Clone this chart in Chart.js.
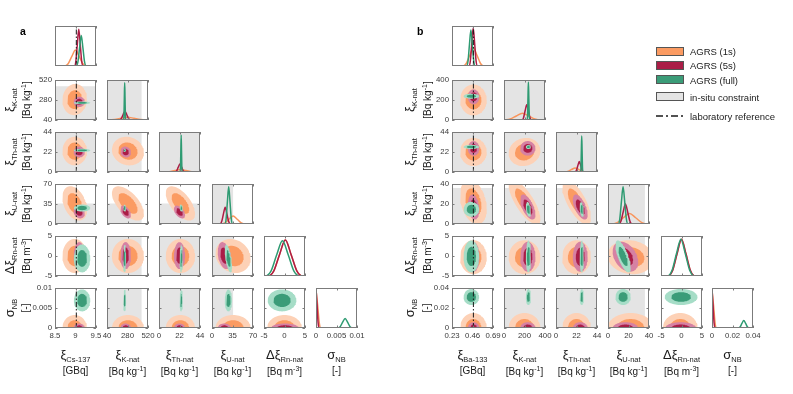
<!DOCTYPE html>
<html>
<head>
<meta charset="utf-8">
<script src="https://cdn.jsdelivr.net/npm/chart.js@4.4.1/dist/chart.umd.min.js"></script>
<style>
  body { margin: 0; background: #fff; font-family: "Liberation Sans", Arial, sans-serif; }
  #wrap { position: relative; width: 793px; height: 394px; overflow: hidden; }
  #wrap canvas { position: absolute; }
  .t { position: absolute; white-space: nowrap; color: #1a1a1a; line-height: 1; }
  .ttl { font-size: 10px; transform: translate(-50%, -50%); }
  .rot { transform: translate(-50%, -50%) rotate(-90deg); }
  .g { font-size: 13px; }
  .t sub { font-size: 7.5px; vertical-align: -3px; }
  .t sup { font-size: 7px; vertical-align: 4px; }
  .sw { position: absolute; width: 26px; height: 7px; border: 1px solid #555; }
  .lg { position: absolute; font-size: 9.5px; color: #1a1a1a; transform: translateY(-50%); white-space: nowrap; }
  .pl { position: absolute; font-size: 10.5px; font-weight: bold; }
</style>
</head>
<body>
<div id="wrap"></div>
<script>
// ---- data: plot a (Cs-137 source) ----
const ticksA = [[8.5, 9, 9.5], [40, 280, 520], [0, 22, 44], [0, 35, 70], [-5, 0, 5], [0, 0.005, 0.01]];
const tickLabelsA = [['8.5', '9', '9.5'], ['40', '280', '520'], ['0', '22', '44'], ['0', '35', '70'], ['-5', '0', '5'], ['0', '0.005', '0.01']];
const constraintA = [null, [40, 445], [0, 44], [0, 36], null, null];
const labRefA = 9.02;

// blob centres / spreads per variable: Cs, K, Th, U, Rn, NB
const meanA_1s = [8.98, 285, 23, 36, 0, 0];
const sdA_1s = [0.12, 75, 6.3, 12, 1.7, 0.0013];
const meanA_5s = [9.09, 258, 22, 21, 0.1, 0];
const sdA_5s = [0.055, 25, 2.4, 4.5, 1.35, 0.00045];
const meanA_full = [9.16, 246, 23.8, 28, -0.6, 0.0069];
const sdA_full = [0.08, 7, 0.7, 2.5, 1.4, 0.0011];
// pair correlations: K-Cs, Th-Cs, Th-K, U-Cs, U-K, U-Th, Rn-Cs, Rn-K, Rn-Th, Rn-U, NB-Cs, NB-K, NB-Th, NB-U, NB-Rn
const corrA_1s = [0.05, 0, -0.1, -0.35, -0.6, -0.6, 0, 0, 0, -0.15, 0, 0, 0, 0, 0];
const corrA_5s = [0, 0, -0.1, -0.2, -0.5, -0.5, 0, 0, 0, -0.3, 0, 0, 0, 0, 0];
const corrA_full = [0, 0, 0, 0, -0.3, -0.3, 0, 0, 0, -0.6, 0, 0, 0, 0, 0];

// marginal curves [1s, 5s, full], y normalised to panel height
const margA_Cs = [
  [[8.5, 0], [8.73, 0], [8.82, 0.056], [8.91, 0.24], [9.0, 0.4], [9.09, 0.24], [9.18, 0.056], [9.27, 0], [9.5, 0]],
  [[8.5, 0], [8.975, 0], [9.01, 0.13], [9.045, 0.55], [9.08, 0.92], [9.115, 0.55], [9.15, 0.13], [9.185, 0], [9.5, 0]],
  [[8.5, 0], [9.02, 0], [9.06, 0.11], [9.1, 0.46], [9.14, 0.76], [9.18, 0.46], [9.22, 0.11], [9.26, 0], [9.5, 0]]
];
const margA_K = [
  [[40, 0], [55, 0], [130, 0.01], [205, 0.042], [280, 0.07], [355, 0.042], [430, 0.01], [505, 0], [520, 0]],
  [[40, 0], [184, 0], [206, 0.03], [228, 0.13], [250, 0.22], [272, 0.13], [294, 0.03], [316, 0], [520, 0]],
  [[40, 0], [235, 0], [239, 0.13], [243, 0.56], [247, 0.93], [251, 0.56], [255, 0.13], [259, 0], [520, 0]]
];
const margA_Th = [
  [[0, 0], [5, 0], [11, 0.008], [17, 0.036], [23, 0.06], [29, 0.036], [35, 0.008], [41, 0], [44, 0]],
  [[0, 0], [17.1, 0], [18.9, 0.028], [20.7, 0.12], [22.5, 0.2], [24.3, 0.12], [26.1, 0.028], [27.9, 0], [44, 0]],
  [[0, 0], [22.75, 0], [23.1, 0.13], [23.45, 0.55], [23.8, 0.92], [24.15, 0.55], [24.5, 0.13], [24.85, 0], [44, 0]]
];
const margA_U = [
  [[0, 0], [15, 0], [22, 0.028], [29, 0.12], [36, 0.2], [43, 0.12], [50, 0.028], [57, 0], [70, 0]],
  [[0, 0], [13.5, 0], [16.5, 0.06], [19.5, 0.25], [22.5, 0.42], [25.5, 0.25], [28.5, 0.06], [31.5, 0], [70, 0]],
  [[0, 0], [21.9, 0], [24.1, 0.13], [26.3, 0.56], [28.5, 0.93], [30.7, 0.56], [32.9, 0.13], [35.1, 0], [70, 0]]
];
const margA_Rn = [
  [[-5, 0], [-4.0, 0], [-2.6, 0.13], [-1.2, 0.54], [0.2, 0.9], [1.6, 0.54], [3.0, 0.13], [4.4, 0], [5, 0]],
  [[-5, 0], [-4.0, 0], [-2.6, 0.13], [-1.2, 0.54], [0.2, 0.9], [1.6, 0.54], [3.0, 0.13], [4.4, 0], [5, 0]],
  [[-5, 0], [-4.7, 0], [-3.3, 0.12], [-1.9, 0.53], [-0.5, 0.88], [0.9, 0.53], [2.3, 0.12], [3.7, 0], [5, 0]]
];
const margA_NB = [
  [[0, 0.95], [0.0004, 0.57], [0.0008, 0.13], [0.0012, 0], [0.01, 0]],
  [[0, 1], [0.00025, 0.6], [0.0005, 0.14], [0.00075, 0], [0.01, 0]],
  [[0, 0], [0.0053, 0], [0.0059, 0.034], [0.0065, 0.144], [0.0071, 0.24], [0.0077, 0.144], [0.0083, 0.034], [0.0089, 0], [0.01, 0]]
];

// ---- data: plot b (Ba-133 source) ----
const ticksB = [[0.23, 0.46, 0.69], [0, 200, 400], [0, 22, 44], [0, 20, 40], [-5, 0, 5], [0, 0.02, 0.04]];
const tickLabelsB = [['0.23', '0.46', '0.69'], ['0', '200', '400'], ['0', '22', '44'], ['0', '20', '40'], ['-5', '0', '5'], ['0', '0.02', '0.04']];
const constraintB = [null, [0, 400], [0, 44], [0, 36], null, null];
const labRefB = 0.47;

const meanB_1s = [0.47, 200, 22, 22, -0.3, 0];
const sdB_1s = [0.06, 62, 6.2, 9, 1.7, 0.006];
const meanB_5s = [0.472, 232, 26, 17, -0.2, 0];
const sdB_5s = [0.026, 30, 3.2, 5, 1.5, 0.0023];
const meanB_full = [0.447, 238, 27.6, 14.7, -0.1, 0.031];
const sdB_full = [0.035, 10, 0.9, 3, 1.6, 0.0032];
const corrB_1s = [0, 0, 0.1, -0.3, -0.75, -0.7, 0, 0, 0, -0.1, 0, 0, 0, 0, 0];
const corrB_5s = [0, 0, 0, -0.2, -0.6, -0.6, 0, 0, 0, -0.35, 0, 0, 0, 0, 0];
const corrB_full = [0, 0, 0, 0, -0.4, -0.4, 0, 0, 0, -0.7, 0, 0, 0, 0, 0];

const margB_Ba = [
  [[0.23, 0], [0.35, 0], [0.39, 0.063], [0.43, 0.27], [0.47, 0.45], [0.51, 0.27], [0.55, 0.063], [0.59, 0], [0.69, 0]],
  [[0.23, 0], [0.42, 0], [0.436, 0.13], [0.452, 0.57], [0.468, 0.95], [0.484, 0.57], [0.5, 0.13], [0.516, 0], [0.69, 0]],
  [[0.23, 0], [0.394, 0], [0.41, 0.126], [0.426, 0.54], [0.442, 0.9], [0.458, 0.54], [0.474, 0.126], [0.49, 0], [0.69, 0]]
];
const margB_K = [
  [[0, 0], [60, 0.024], [120, 0.1], [180, 0.17], [240, 0.1], [300, 0.024], [360, 0], [400, 0]],
  [[0, 0], [174, 0], [190, 0.053], [206, 0.23], [222, 0.38], [238, 0.23], [254, 0.053], [270, 0], [400, 0]],
  [[0, 0], [226, 0], [230, 0.13], [234, 0.57], [238, 0.95], [242, 0.57], [246, 0.13], [250, 0], [400, 0]]
];
const margB_Th = [
  [[0, 0], [8.5, 0], [12.5, 0.014], [16.5, 0.06], [20.5, 0.1], [24.5, 0.06], [28.5, 0.014], [32.5, 0], [44, 0]],
  [[0, 0], [20.2, 0], [21.8, 0.036], [23.4, 0.155], [25, 0.26], [26.6, 0.155], [28.2, 0.036], [29.8, 0], [44, 0]],
  [[0, 0], [26.4, 0], [26.8, 0.126], [27.2, 0.54], [27.6, 0.9], [28, 0.54], [28.4, 0.126], [28.8, 0], [44, 0]]
];
const margB_U = [
  [[0, 0], [3, 0], [9, 0.036], [15, 0.156], [21, 0.26], [27, 0.156], [33, 0.036], [39, 0], [40, 0]],
  [[0, 0], [10.4, 0], [12.6, 0.07], [14.8, 0.3], [17, 0.5], [19.2, 0.3], [21.4, 0.07], [23.6, 0], [40, 0]],
  [[0, 0], [9.9, 0], [11.5, 0.13], [13.1, 0.56], [14.7, 0.93], [16.3, 0.56], [17.9, 0.13], [19.5, 0], [40, 0]]
];
const margB_Rn = [
  [[-5, 0], [-3.3, 0], [-2.2, 0.13], [-1.1, 0.55], [0, 0.92], [1.1, 0.55], [2.2, 0.13], [3.3, 0], [5, 0]],
  [[-5, 0], [-3.3, 0], [-2.2, 0.13], [-1.1, 0.55], [0, 0.92], [1.1, 0.55], [2.2, 0.13], [3.3, 0], [5, 0]],
  [[-5, 0], [-3.45, 0], [-2.35, 0.13], [-1.25, 0.55], [-0.15, 0.92], [0.95, 0.55], [2.05, 0.13], [3.15, 0], [5, 0]]
];
const margB_NB = [
  [[0, 0.95], [0.0015, 0.57], [0.003, 0.13], [0.0045, 0], [0.04, 0]],
  [[0, 0.97], [0.001, 0.58], [0.002, 0.135], [0.003, 0], [0.04, 0]],
  [[0, 0], [0.0256, 0], [0.0274, 0.027], [0.0292, 0.114], [0.031, 0.19], [0.0328, 0.114], [0.0346, 0.027], [0.0364, 0], [0.04, 0]]
];

const seriesNames = ['AGRS (1s)', 'AGRS (5s)', 'AGRS (full)'];

// ---- styles ----
const lineColors = ['#f8955c', '#ad1c45', '#2e9b72'];
const innerColors = ['#fb9b62', '#aa1d47', '#3b9c78'];
const outerColors = ['#fdd1b6', '#d681a3', '#a6ddc7'];
const grayBg = '#e4e4e4';
const fontFamily = "'Liberation Sans', Arial, sans-serif";

// ---- layout ----
const colLeftA = [55, 107, 159, 212, 264, 316];
const colLeftB = [452, 504, 556, 608, 661, 712];
const rowTop = [26, 80, 132, 184, 236, 288];
const W = 41, H = 40;
const PL = 36, PR = 16, PT = 8, PB = 22;

const plots = [
  { cols: colLeftA, ticks: ticksA, labels: tickLabelsA, constraint: constraintA, labRef: labRefA,
    marg: [margA_Cs, margA_K, margA_Th, margA_U, margA_Rn, margA_NB],
    means: [meanA_1s, meanA_5s, meanA_full], sds: [sdA_1s, sdA_5s, sdA_full], corr: [corrA_1s, corrA_5s, corrA_full] },
  { cols: colLeftB, ticks: ticksB, labels: tickLabelsB, constraint: constraintB, labRef: labRefB,
    marg: [margB_Ba, margB_K, margB_Th, margB_U, margB_Rn, margB_NB],
    means: [meanB_1s, meanB_5s, meanB_full], sds: [sdB_1s, sdB_5s, sdB_full], corr: [corrB_1s, corrB_5s, corrB_full] }
];

const wrap = document.getElementById('wrap');

function ellipse(cx, cy, sx, sy, rho, k) {
  const pts = [];
  const r = Math.sqrt(1 - rho * rho);
  for (let a = 0; a <= 72; a++) {
    const t = a / 72 * 2 * Math.PI;
    pts.push({ x: cx + k * sx * Math.cos(t), y: cy + k * sy * (rho * Math.cos(t) + r * Math.sin(t)) });
  }
  return pts;
}

function polyDs(pts, color, order) {
  return { data: pts, showLine: true, fill: 'shape', backgroundColor: color,
    borderColor: 'rgba(0,0,0,0)', borderWidth: 0, pointRadius: 0, order: order, clip: 0 };
}

function rectDs(x0, x1, y0, y1) {
  return polyDs([{ x: x0, y: y0 }, { x: x1, y: y0 }, { x: x1, y: y1 }, { x: x0, y: y1 }, { x: x0, y: y0 }], grayBg, 50);
}

function labDs(x, y0, y1) {
  return { data: [{ x: x, y: y0 }, { x: x, y: y1 }], showLine: true, borderColor: '#1a1a1a', borderWidth: 1,
    borderDash: [5, 2, 1.5, 2], pointRadius: 0, fill: false, order: 0 };
}

const framePlugin = {
  id: 'frame',
  afterDatasetsDraw(chart) {
    const { ctx, chartArea: a, scales } = chart;
    ctx.save();
    ctx.strokeStyle = '#7b7b7b';
    ctx.lineWidth = 1;
    ctx.beginPath();
    scales.x.ticks.forEach(t => {
      const px = Math.round(scales.x.getPixelForValue(t.value)) + 0.5;
      ctx.moveTo(px, a.bottom); ctx.lineTo(px, a.bottom - 2.5);
      ctx.moveTo(px, a.top); ctx.lineTo(px, a.top + 2.5);
    });
    scales.y.ticks.forEach(t => {
      const py = Math.round(scales.y.getPixelForValue(t.value)) + 0.5;
      ctx.moveTo(a.left, py); ctx.lineTo(a.left + 2.5, py);
      ctx.moveTo(a.right, py); ctx.lineTo(a.right - 2.5, py);
    });
    ctx.stroke();
    ctx.strokeRect(a.left + 0.5, a.top + 0.5, a.width - 1, a.height - 1);
    ctx.restore();
  }
};

function axisOpts(vals, labels, showLabels, size, horizontal) {
  return {
    type: 'linear', min: vals[0], max: vals[vals.length - 1],
    grid: { display: false, drawTicks: false }, border: { display: false },
    ticks: { display: showLabels, padding: 3, autoSkip: false, maxRotation: 0,
      color: '#3a3a3a', font: { size: 7.8, family: fontFamily },
      callback: (v, idx) => labels[idx] },
    afterBuildTicks: s => { s.ticks = vals.map(v => ({ value: v })); },
    afterFit: s => { if (horizontal) s.height = size; else s.width = size; }
  };
}

function addPanel(plot, i, j) {
  const left = plot.cols[j], top = rowTop[i];
  const cv = document.createElement('canvas');
  cv.width = W + PL + PR; cv.height = H + PT + PB;
  cv.style.left = (left - PL) + 'px';
  cv.style.top = (top - PT) + 'px';
  cv.style.width = cv.width + 'px';
  cv.style.height = cv.height + 'px';
  wrap.appendChild(cv);

  const xv = plot.ticks[j];
  const xr = [xv[0], xv[2]];
  const ds = [];
  let yScale;

  if (i === j) {
    const c = plot.constraint[i];
    if (c) ds.push(rectDs(c[0], c[1], 0, 1));
    plot.marg[i].forEach((pts, s) => ds.push({
      data: pts.map(p => ({ x: p[0], y: p[1] })), showLine: true, borderColor: lineColors[s],
      borderWidth: 1.5, pointRadius: 0, cubicInterpolationMode: 'monotone', fill: false, order: 3 - s
    }));
    if (j === 0) ds.push(labDs(plot.labRef, 0, 1));
    yScale = axisOpts([0, 1], [], false, PL, false);
    yScale.afterBuildTicks = s => { s.ticks = []; };
  } else {
    const yv = plot.ticks[i];
    const yr = [yv[0], yv[2]];
    const cx = plot.constraint[j], cy = plot.constraint[i];
    if (cx || cy) {
      const rx = cx || xr, ry = cy || yr;
      ds.push(rectDs(rx[0], rx[1], ry[0], ry[1]));
    }
    const p = i * (i - 1) / 2 + j;
    for (let s = 0; s < 3; s++) {
      const m = plot.means[s], sd = plot.sds[s], rho = plot.corr[s][p];
      ds.push(polyDs(ellipse(m[j], m[i], sd[j], sd[i], rho, 2.5), outerColors[s], 10 - 2 * s));
      ds.push(polyDs(ellipse(m[j], m[i], sd[j], sd[i], rho, 1.5), innerColors[s], 9 - 2 * s));
    }
    if (j === 0) ds.push(labDs(plot.labRef, yr[0], yr[1]));
    yScale = axisOpts(yv, plot.labels[i], j === 0, PL, false);
  }

  new Chart(cv, {
    type: 'scatter',
    data: { datasets: ds },
    options: {
      animation: false, responsive: false, devicePixelRatio: 1, events: [],
      layout: { padding: { left: 0, right: PR, top: PT, bottom: 0 } },
      plugins: { legend: { display: false }, tooltip: { enabled: false } },
      scales: { x: axisOpts(xv, plot.labels[j], i === 5, PB, true), y: yScale }
    },
    plugins: [framePlugin]
  });
}

plots.forEach(plot => {
  for (let i = 0; i < 6; i++) for (let j = 0; j <= i; j++) addPanel(plot, i, j);
});

// ---- text: axis titles, panel letters, legend ----
function addText(html, x, y, cls) {
  const d = document.createElement('div');
  d.className = 't ' + cls;
  d.innerHTML = html;
  d.style.left = x + 'px';
  d.style.top = y + 'px';
  wrap.appendChild(d);
}
const unitK = '[Bq kg<sup>-1</sup>]';
const titlesA = [['<span class="g">ξ</span><sub>Cs-137</sub>', '[GBq]'], ['<span class="g">ξ</span><sub>K-nat</sub>', unitK],
  ['<span class="g">ξ</span><sub>Th-nat</sub>', unitK], ['<span class="g">ξ</span><sub>U-nat</sub>', unitK],
  ['<span class="g">Δξ</span><sub>Rn-nat</sub>', '[Bq m<sup>-3</sup>]'], ['<span class="g">σ</span><sub>NB</sub>', '[-]']];
const titlesB = titlesA.map((t, k) => k === 0 ? ['<span class="g">ξ</span><sub>Ba-133</sub>', '[GBq]'] : t);
const yTitleX = [[11, 26], [411, 427]];

[titlesA, titlesB].forEach((titles, p) => {
  const plot = plots[p];
  titles.forEach((t, k) => {
    const cx = plot.cols[k] + W / 2;
    addText(t[0], cx, 356, 'ttl');
    addText(t[1], cx, 371, 'ttl');
    if (k > 0) {
      const cy = rowTop[k] + H / 2;
      addText(t[0], yTitleX[p][0], cy, 'ttl rot');
      addText(t[1], yTitleX[p][1], cy, 'ttl rot');
    }
  });
});

[['a', 20, 25], ['b', 417, 25]].forEach(l => {
  const d = document.createElement('div');
  d.className = 'pl';
  d.textContent = l[0];
  d.style.left = l[1] + 'px';
  d.style.top = l[2] + 'px';
  wrap.appendChild(d);
});

const legendY = [51, 65, 79.5, 96.5];
const legendFill = [innerColors[0], innerColors[1], innerColors[2], grayBg];
const legendText = seriesNames.concat(['in-situ constraint']);
legendText.forEach((txt, k) => {
  const sw = document.createElement('div');
  sw.className = 'sw';
  sw.style.left = '656px';
  sw.style.top = (legendY[k] - 4.5) + 'px';
  sw.style.background = legendFill[k];
  wrap.appendChild(sw);
  const tx = document.createElement('div');
  tx.className = 'lg';
  tx.textContent = txt;
  tx.style.left = '690px';
  tx.style.top = legendY[k] + 'px';
  wrap.appendChild(tx);
});
const svgNS = 'http://www.w3.org/2000/svg';
const svg = document.createElementNS(svgNS, 'svg');
svg.setAttribute('width', '30'); svg.setAttribute('height', '6');
svg.style.position = 'absolute'; svg.style.left = '655px'; svg.style.top = '113px';
const ln = document.createElementNS(svgNS, 'line');
ln.setAttribute('x1', '1'); ln.setAttribute('x2', '28'); ln.setAttribute('y1', '3'); ln.setAttribute('y2', '3');
ln.setAttribute('stroke', '#1a1a1a'); ln.setAttribute('stroke-width', '1.3');
ln.setAttribute('stroke-dasharray', '7 3 2 3');
svg.appendChild(ln);
wrap.appendChild(svg);
const lt = document.createElement('div');
lt.className = 'lg';
lt.textContent = 'laboratory reference';
lt.style.left = '690px';
lt.style.top = '116px';
wrap.appendChild(lt);
</script>
</body>
</html>
